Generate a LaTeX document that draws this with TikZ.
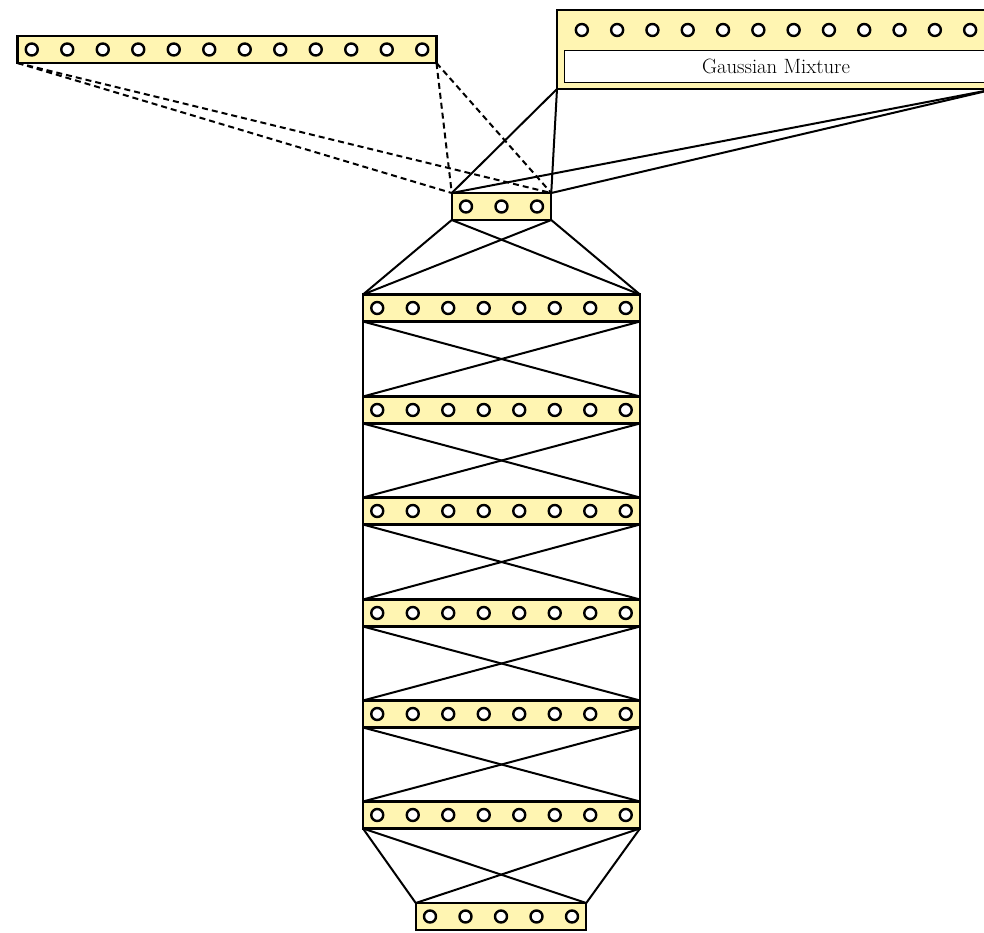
\documentclass[tikz,border=0pt]{standalone}
\usetikzlibrary{calc}
\definecolor{layerfill}{RGB}{255,245,178}
\begin{document}
\begin{tikzpicture}[x=1pt,y=-1pt,
  layer/.style={draw,line width=2.3pt,fill=layerfill,minimum height=27pt,inner sep=0pt,outer sep=0pt},
  unit/.style={circle,draw,line width=2.4pt,fill=white,minimum size=12pt,inner sep=0pt},
  link/.style={line width=2pt},
  dlink/.style={link,dash pattern=on 6pt off 4pt}]
\useasboundingbox (0,0) rectangle (984,932);

% a layer: name, centre x, centre y, number of units
\newcommand\drawlayer[4]{%
  \node[layer,minimum width={35.5*#4-7}] (#1) at (#2,#3) {};
  \foreach \k in {1,...,#4}
    \node[unit] (#1-\k) at ({#2+(\k-(#4+1)/2)*35.5},#3) {};
}

% input layer (left) and Gaussian mixture block (right)
\drawlayer{in}{227}{49.5}{12}
\node[layer,minimum width=438pt,minimum height=79pt] (gm) at (776,49.5) {};
\foreach \k in {1,...,12}
  \node[unit] (gm-\k) at ({776+(\k-6.5)*35.3},30) {};
\node[draw,line width=0.9pt,fill=white,minimum width=424pt,minimum height=32pt,inner sep=0pt,
      font=\fontsize{20.7}{25}\selectfont] (gmlabel) at (776,66) {Gaussian Mixture};

% bottleneck and stacked hidden layers
\drawlayer{code}{501.5}{206.5}{3}
\drawlayer{h1}{501.5}{308}{8}
\drawlayer{h2}{501.5}{410}{8}
\drawlayer{h3}{501.5}{511}{8}
\drawlayer{h4}{501.5}{613}{8}
\drawlayer{h5}{501.5}{714}{8}
\drawlayer{h6}{501.5}{815}{8}
\drawlayer{out}{501}{916.5}{5}

% dashed connections from the input layer
\foreach \a in {south west,south east}
  \foreach \b in {north west,north east}
    \draw[dlink] (in.\a) -- (code.\b);

% solid connections from the mixture block
\foreach \a in {south west,south east}
  \foreach \b in {north west,north east}
    \draw[link] (gm.\a) -- (code.\b);

% full connections between consecutive layers
\foreach \u/\l in {code/h1,h1/h2,h2/h3,h3/h4,h4/h5,h5/h6,h6/out}
  \foreach \a in {south west,south east}
    \foreach \b in {north west,north east}
      \draw[link] (\u.\a) -- (\l.\b);
\end{tikzpicture}
\end{document}
